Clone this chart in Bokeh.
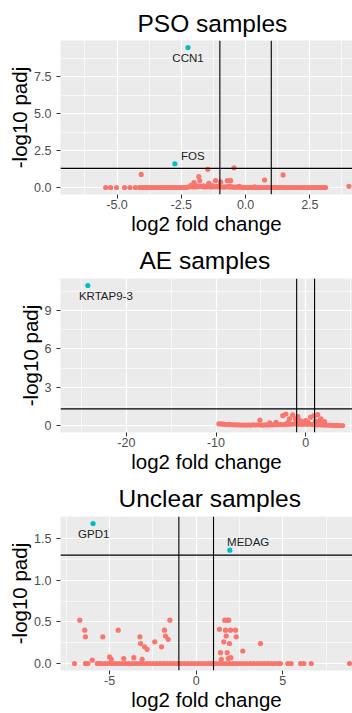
from bokeh.plotting import figure
from bokeh.layouts import column
from bokeh.models import Range1d, FixedTicker, Span, ColumnDataSource
from bokeh.core.properties import value
from bokeh.embed import file_html
from bokeh.resources import INLINE

# thresholds
LFC_CUT = 1.0
PADJ_CUT = 1.30103

# ---------------- PSO samples ----------------
pso_ns_x = [
    -5.44, -5.25, -5.02, -4.71, -4.50, -4.29, -4.13, -4.04, -3.95, -3.87,
    -3.78, -3.70, -3.61, -3.52, -3.44, -3.35, -3.27, -3.18, -3.10, -3.01,
    -2.93, -2.84, -2.76, -2.67, -2.58, -2.50, -2.41, -2.33, -2.24, -2.16,
    -2.07, -1.99, -1.90, -1.82, -1.73, -1.65, -1.56, -1.48, -1.39, -1.31,
    -1.22, -1.14, -1.05, -0.97, -0.88, -0.80, -0.71, -0.63, -0.54, -0.46,
    -0.37, -0.29, -0.20, -0.12, -0.03, 0.06, 0.14, 0.23, 0.31, 0.40,
    0.48, 0.57, 0.65, 0.74, 0.82, 0.91, 0.99, 1.08, 1.16, 1.25,
    1.33, 1.42, 1.50, 1.59, 1.67, 1.76, 1.84, 1.93, 2.01, 2.10,
    2.18, 2.27, 2.35, 2.44, 2.52, 2.61, 2.69, 2.78, 2.86, 2.95,
    3.03, 3.11, -4.06, -2.01, -1.82, -1.78, -1.47, -1.43, -1.17, -0.97,
    -0.71, -0.58, -0.45, 0.74, 1.46, 4.02, -2.12, -1.95, -1.62, -1.30,
    -1.02, -0.62, -0.25, 0.35,
]
pso_ns_y = [
    0.00, 0.00, 0.00, 0.00, 0.00, 0.00, 0.00, 0.00, 0.00, 0.00,
    0.00, 0.00, 0.00, 0.00, 0.00, 0.00, 0.00, 0.00, 0.00, 0.00,
    0.00, 0.00, 0.00, 0.00, 0.00, 0.00, 0.00, 0.00, 0.03, 0.05,
    0.06, 0.04, 0.05, 0.06, 0.08, 0.05, 0.04, 0.06, 0.05, 0.04,
    0.05, 0.06, 0.04, 0.05, 0.03, 0.04, 0.05, 0.03, 0.04, 0.03,
    0.02, 0.03, 0.02, 0.01, 0.00, 0.00, 0.00, 0.00, 0.00, 0.00,
    0.00, 0.00, 0.00, 0.00, 0.00, 0.00, 0.00, 0.00, 0.00, 0.00,
    0.00, 0.00, 0.00, 0.00, 0.00, 0.00, 0.00, 0.00, 0.00, 0.00,
    0.00, 0.00, 0.00, 0.00, 0.00, 0.00, 0.00, 0.00, 0.00, 0.00,
    0.00, 0.00, 0.89, 0.33, 0.74, 0.45, 1.23, 0.28, 0.46, 0.39,
    0.46, 0.46, 1.34, 0.51, 0.85, 0.08, 0.14, 0.16, 0.12, 0.13,
    0.11, 0.09, 0.07, 0.05,
]
pso_sig_x = [-2.24, -2.75]
pso_sig_y = [9.50, 1.61]
pso_sig_gene = ["CCN1", "FOS"]
pso_x_ticks = [-5.0, -2.5, 0.0, 2.5]
pso_x_labels = ["-5.0", "-2.5", "0.0", "2.5"]
pso_x_minor = [-6.25, -3.75, -1.25, 1.25, 3.75]
pso_y_ticks = [0.0, 2.5, 5.0, 7.5]
pso_y_labels = ["0.0", "2.5", "5.0", "7.5"]
pso_y_minor = [1.25, 3.75, 6.25, 8.75]

# ---------------- AE samples ----------------
ae_ns_x = [
    -9.68, -9.40, -9.14, -8.85, -8.60, -8.31, -8.05, -7.78, -7.50, -7.22,
    -6.95, -6.68, -6.40, -6.12, -5.85, -5.58, -5.30, -5.02, -4.75, -4.48,
    -4.20, -3.93, -3.65, -3.38, -3.10, -2.83, -2.56, -2.28, -2.01, -1.74,
    -1.46, -1.19, -0.92, -0.64, -0.37, -0.10, 0.18, 0.45, 0.72, 1.00,
    1.27, 1.54, 1.82, 2.09, 2.36, 2.64, 2.91, 3.18, 3.46, 3.73,
    4.13, -5.10, -2.55, -2.20, -1.80, -1.45, -1.15, -0.85, -0.60, -0.30,
    0.00, 0.55, 0.95, 1.35, 1.70, 1.60, 2.10, -3.30, -4.00, -1.00,
    0.20, -2.00, 1.10,
]
ae_ns_y = [
    0.13, 0.12, 0.10, 0.08, 0.09, 0.07, 0.06, 0.05, 0.05, 0.04,
    0.04, 0.03, 0.04, 0.03, 0.05, 0.04, 0.06, 0.04, 0.03, 0.05,
    0.04, 0.06, 0.05, 0.07, 0.06, 0.08, 0.07, 0.09, 0.10, 0.12,
    0.11, 0.13, 0.12, 0.10, 0.09, 0.11, 0.10, 0.12, 0.08, 0.06,
    0.05, 0.06, 0.04, 0.03, 0.03, 0.02, 0.02, 0.01, 0.01, 0.00,
    0.00, 0.42, 0.77, 0.90, 0.52, 0.83, 0.52, 0.70, 0.39, 0.26,
    0.39, 0.65, 0.77, 0.85, 0.52, 0.39, 0.30, 0.25, 0.20, 0.30,
    0.28, 0.22, 0.35,
]
ae_sig_x = [-24.3]
ae_sig_y = [10.96]
ae_sig_gene = ["KRTAP9-3"]
ae_x_ticks = [-20, -10, 0]
ae_x_labels = ["-20", "-10", "0"]
ae_x_minor = [-25, -15, -5, 5]
ae_y_ticks = [0, 3, 6, 9]
ae_y_labels = ["0", "3", "6", "9"]
ae_y_minor = [1.5, 4.5, 7.5, 10.5]

# ---------------- Unclear samples ----------------
unc_ns_x = [
    -7.02, -6.39, -6.25, -5.71, -5.58, -5.48, -5.28, -5.08, -4.88, -4.68,
    -4.48, -4.28, -4.08, -3.88, -3.68, -3.48, -3.28, -3.08, -2.88, -2.68,
    -2.48, -2.28, -2.08, -1.88, -1.68, -1.48, -1.28, -1.08, -0.88, -0.68,
    -0.48, -0.28, -0.08, 0.12, 0.32, 0.52, 0.72, 0.92, 1.12, 1.32,
    1.52, 1.72, 1.92, 2.12, 2.32, 2.52, 2.72, 2.92, 3.12, 3.32,
    3.52, 3.72, 3.92, 4.12, 4.32, 4.52, 4.72, 4.86, 5.29, 5.48,
    6.02, 6.21, 6.64, 8.85, -6.72, -6.43, -6.39, -5.39, -4.50, -3.25,
    -3.21, -2.98, -2.83, -2.39, -2.00, -1.83, -1.77, -1.62, -1.52, -6.00,
    -5.00, -4.90, -4.18, -3.12, 1.65, 1.79, 1.88, 1.34, 1.69, 1.98,
    2.27, 1.73, 2.31, 1.59, 1.92, 1.40, 1.79, 1.45, 1.85, 2.00,
    2.69, 3.71, -3.60,
]
unc_ns_y = [
    0.00, 0.00, 0.00, 0.00, 0.00, 0.00, 0.00, 0.00, 0.00, 0.00,
    0.00, 0.00, 0.00, 0.00, 0.00, 0.00, 0.00, 0.00, 0.00, 0.00,
    0.00, 0.00, 0.00, 0.00, 0.00, 0.00, 0.00, 0.00, 0.00, 0.00,
    0.00, 0.00, 0.00, 0.00, 0.00, 0.00, 0.00, 0.00, 0.00, 0.00,
    0.00, 0.00, 0.00, 0.00, 0.00, 0.00, 0.00, 0.00, 0.00, 0.00,
    0.00, 0.00, 0.00, 0.00, 0.00, 0.00, 0.00, 0.00, 0.00, 0.00,
    0.00, 0.00, 0.00, 0.00, 0.52, 0.40, 0.32, 0.32, 0.40, 0.32,
    0.24, 0.20, 0.17, 0.26, 0.20, 0.40, 0.33, 0.29, 0.52, 0.04,
    0.08, 0.05, 0.06, 0.05, 0.52, 0.52, 0.52, 0.41, 0.40, 0.40,
    0.40, 0.33, 0.32, 0.26, 0.24, 0.13, 0.13, 0.05, 0.06, 0.07,
    0.15, 0.24, 0.07,
]
unc_sig_x = [-5.95, 1.94]
unc_sig_y = [1.68, 1.36]
unc_sig_gene = ["GPD1", "MEDAG"]
unc_x_ticks = [-5, 0, 5]
unc_x_labels = ["-5", "0", "5"]
unc_x_minor = [-7.5, -2.5, 2.5, 7.5]
unc_y_ticks = [0.0, 0.5, 1.0, 1.5]
unc_y_labels = ["0.0", "0.5", "1.0", "1.5"]
unc_y_minor = [0.25, 0.75, 1.25]

RED = "#F8766D"
CYAN = "#00BFC4"
FONT = "Liberation Sans"


def panel(title, ns_x, ns_y, sig_x, sig_y, genes, xr, yr,
          xt, xl, xm, yt, yl, ym, height, left, top, bottom, title_gap, title_x, dx, dy):
    p = figure(width=352, height=height, x_range=Range1d(*xr), y_range=Range1d(*yr),
               output_backend="svg", toolbar_location=None,
               min_border_left=left, min_border_right=0,
               min_border_top=top, min_border_bottom=bottom)
    p.background_fill_color = "#EBEBEB"
    p.border_fill_color = "white"
    p.outline_line_color = None

    p.title.text = title
    p.title.text_font = FONT
    p.title.text_font_size = "24.5px"
    p.title.text_font_style = "normal"
    p.title.text_color = "black"
    p.title.align = "left"
    p.title.offset = title_x
    p.title.standoff = title_gap

    xtick = FixedTicker(ticks=xt, minor_ticks=xm)
    ytick = FixedTicker(ticks=yt, minor_ticks=ym)
    p.xaxis.ticker = xtick
    p.yaxis.ticker = ytick
    p.xgrid.ticker = xtick
    p.ygrid.ticker = ytick
    p.xaxis.major_label_overrides = dict(zip(xt, xl))
    p.yaxis.major_label_overrides = dict(zip(yt, yl))
    p.xaxis.axis_label = "log2 fold change"
    p.yaxis.axis_label = "-log10 padj"
    for ax in (p.xaxis, p.yaxis):
        ax.axis_line_color = None
        ax.major_tick_line_color = "#333333"
        ax.major_tick_out = 4
        ax.major_tick_in = 0
        ax.minor_tick_out = 0
        ax.minor_tick_in = 0
        ax.major_label_text_font = FONT
        ax.major_label_text_font_size = "12.5px"
        ax.major_label_text_color = "#4D4D4D"
        ax.axis_label_text_font = FONT
        ax.axis_label_text_font_size = "20.5px"
        ax.axis_label_text_font_style = "normal"
        ax.axis_label_text_color = "black"
    p.xaxis.major_label_standoff = 1
    p.xaxis.axis_label_standoff = 0
    p.yaxis.major_label_standoff = 5
    p.yaxis.axis_label_standoff = 0
    for g in (p.xgrid, p.ygrid):
        g.grid_line_color = "white"
        g.grid_line_width = 1.2
        g.minor_grid_line_color = "white"
        g.minor_grid_line_width = 0.6

    for loc in (-LFC_CUT, LFC_CUT):
        p.add_layout(Span(location=loc, dimension="height", line_color="black", line_width=1.1))
    p.add_layout(Span(location=PADJ_CUT, dimension="width", line_color="black", line_width=1.1))

    p.scatter(ns_x, ns_y, size=5.2, fill_color=RED, line_color=None)
    src = ColumnDataSource(dict(x=sig_x, y=sig_y, gene=genes, dx=dx, dy=dy))
    p.scatter("x", "y", source=src, size=5.2, fill_color=CYAN, line_color=None)
    p.text("x", "y", text="gene", source=src, x_offset="dx", y_offset="dy",
           text_font=value(FONT), text_font_size=value("11.5px"), text_color="#222222",
           text_align="center", text_baseline="middle")
    return p


p1 = panel("PSO samples", pso_ns_x, pso_ns_y, pso_sig_x, pso_sig_y, pso_sig_gene,
           (-7.2, 4.16), (-0.475, 9.975), pso_x_ticks, pso_x_labels, pso_x_minor,
           pso_y_ticks, pso_y_labels, pso_y_minor, 237, 60, 40, 42, 7, 77,
           [0, 18], [10.5, -8])
p2 = panel("AE samples", ae_ns_x, ae_ns_y, ae_sig_x, ae_sig_y, ae_sig_gene,
           (-27.35, 5.23), (-0.548, 11.508), ae_x_ticks, ae_x_labels, ae_x_minor,
           ae_y_ticks, ae_y_labels, ae_y_minor, 238, 49, 41, 42, 9, 79,
           [18], [10.5])
p3 = panel("Unclear samples", unc_ns_x, unc_ns_y, unc_sig_x, unc_sig_y, unc_sig_gene,
           (-7.83, 9.02), (-0.084, 1.764), unc_x_ticks, unc_x_labels, unc_x_minor,
           unc_y_ticks, unc_y_labels, unc_y_minor, 238, 60, 41, 42, 9, 58,
           [0.7, 18.4], [10.7, -8.3])

layout = column(p1, p2, p3, spacing=0)
open("out.html", "w").write(file_html(layout, INLINE))
